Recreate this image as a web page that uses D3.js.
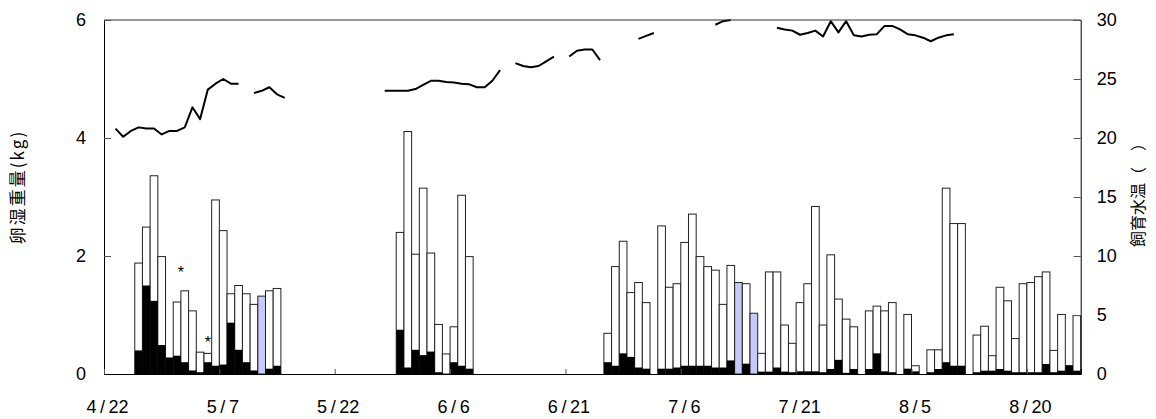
<!DOCTYPE html>
<html>
<head>
<meta charset="utf-8">
<script src="https://cdn.jsdelivr.net/npm/d3@7"></script>
<style>
  body { margin: 0; background: #fff; }
  text { font-family: Arial, "Liberation Sans", sans-serif; }
  .cjk { font-family: "Noto Sans CJK JP", "Noto Sans CJK SC", sans-serif; }
</style>
</head>
<body>
<svg id="chart" width="1156" height="419"></svg>
<script>
// one band per day, day 0 = left edge of the plot
const dayCount = 127;
const tickDays = [0, 15, 30, 45, 60, 75, 90, 105, 120];
const tickLabels = ["4/22", "5/7", "5/22", "6/6", "6/21", "7/6", "7/21", "8/5", "8/20"];

// egg wet weight (kg): total and the black (bottom) part
const barDays = [4, 5, 6, 7, 8, 9, 10, 11, 12, 13, 14, 15, 16, 17, 18, 19, 20, 21, 22,
  38, 39, 40, 41, 42, 43, 44, 45, 46, 47,
  65, 66, 67, 68, 69, 70, 72, 73, 74, 75, 76, 77, 78, 79, 80, 81, 82, 83, 84, 85, 86, 87, 88, 89,
  90, 91, 92, 93, 94, 95, 96, 97, 99, 100, 101, 102, 104, 105, 107, 108, 109, 110, 111,
  113, 114, 115, 116, 117, 118, 119, 120, 121, 122, 123, 124, 125, 126];
const eggTotal = [1.88, 2.49, 3.36, 1.99, 0.28, 1.22, 1.41, 1.07, 0.37, 0.35, 2.95, 2.43, 1.36, 1.50, 1.36, 1.18, 1.32, 1.41, 1.45,
  2.40, 4.11, 2.03, 3.15, 2.05, 0.84, 0.34, 0.80, 3.03, 1.99,
  0.69, 1.82, 2.25, 1.38, 1.55, 1.21, 2.51, 1.47, 1.53, 2.23, 2.71, 1.99, 1.82, 1.76, 1.18, 1.84, 1.55, 1.53, 1.03, 0.35, 1.73, 1.73, 0.83, 0.52,
  1.21, 1.53, 2.84, 0.83, 2.02, 1.27, 0.93, 0.80, 1.07, 1.15, 1.07, 1.21, 1.01, 0.14, 0.41, 0.41, 3.15, 2.55, 2.55,
  0.66, 0.81, 0.31, 1.47, 1.24, 0.60, 1.53, 1.55, 1.65, 1.73, 0.40, 1.01, 0.15, 0.99];
const eggBlack = [0.40, 1.50, 1.24, 0.49, 0.28, 0.31, 0.20, 0.06, 0.03, 0.20, 0.14, 0.16, 0.87, 0.41, 0.20, 0.06, 0, 0.09, 0.14,
  0.75, 0.11, 0.41, 0.32, 0.38, 0.03, 0, 0.20, 0.14, 0.09,
  0.20, 0.14, 0.35, 0.29, 0.11, 0.09, 0.09, 0.09, 0.11, 0.14, 0.14, 0.14, 0.14, 0.11, 0.11, 0.23, 0, 0.175, 0, 0.04, 0.04, 0.11, 0.04, 0.03,
  0.045, 0.045, 0.045, 0.03, 0.085, 0.24, 0.02, 0.085, 0.085, 0.35, 0.045, 0.03, 0.09, 0.045, 0.03, 0.085, 0.20, 0.14, 0.14,
  0.03, 0.056, 0.056, 0.085, 0.056, 0.03, 0.03, 0.03, 0.03, 0.17, 0.03, 0.056, 0.15, 0.056];
const lavenderDays = [20, 82, 84];

// rearing water temperature, one value per day (null = not measured)
const tempC = [null, 20.8, 20.1, 20.6, 20.9, 20.8, 20.8, 20.3, 20.6, 20.6, 20.9, 22.6, 21.6, 24.1, 24.6, 25.0, 24.6, 24.6,
  null, 23.8, 24.0, 24.3, 23.7, 23.4,
  null, null, null, null, null, null, null, null, null, null, null, null,
  24.0, 24.0, 24.0, 24.0, 24.15, 24.5, 24.85, 24.85, 24.75, 24.7, 24.6, 24.55, 24.3, 24.3, 24.85, 25.75,
  null, 26.35, 26.1, 26.0, 26.1, 26.5, 26.9,
  null, 26.9, 27.4, 27.5, 27.5, 26.6,
  null, null, null, null, 28.4, 28.65, 28.9,
  null, null, null, null, null, null, null, 29.6, 29.9, 30.0,
  null, null, null, null, null,
  29.35, 29.2, 29.1, 28.75, 28.9, 29.1, 28.6, 29.9, 28.95, 29.9, 28.7, 28.6, 28.75, 28.8, 29.5, 29.5, 29.2, 28.8, 28.7, 28.5, 28.2, 28.5, 28.7, 28.8,
  null, null, null, null, null, null, null, null, null, null, null, null, null, null, null, null];

const starMarks = [{ day: 9.5, kg: 1.76 }, { day: 13, kg: 0.57 }];

const svg = d3.select("#chart");
const plotL = 104, plotR = 1080.7, plotT = 20, plotB = 374;

const x = d3.scaleBand().domain(d3.range(dayCount)).range([plotL, plotR]).padding(0);
const xPos = d3.scaleLinear().domain([0, dayCount]).range([plotL, plotR]);
const yL = d3.scaleLinear().domain([0, 6]).range([plotB, plotT]);
const yR = d3.scaleLinear().domain([0, 30]).range([plotB, plotT]);
const bw = x.bandwidth();

const bars = barDays.map((d, i) => ({ day: d, total: eggTotal[i], black: eggBlack[i], lav: lavenderDays.includes(d) }));

// bars: outlined total, black part drawn on top of it
const g = svg.append("g");
g.selectAll(".total")
  .data(bars.filter(b => b.total > b.black))
  .enter()
  .append("rect")
  .attr("class", "total")
  .attr("x", b => x(b.day))
  .attr("y", b => yL(b.total))
  .attr("width", bw)
  .attr("height", b => plotB - yL(b.total))
  .attr("fill", b => b.lav ? "#c9c9f7" : "#fff")
  .attr("stroke", "#222")
  .attr("stroke-width", 1);

g.selectAll(".black")
  .data(bars.filter(b => b.black > 0))
  .enter()
  .append("rect")
  .attr("class", "black")
  .attr("x", b => x(b.day))
  .attr("y", b => yL(b.black))
  .attr("width", bw)
  .attr("height", b => plotB - yL(b.black))
  .attr("fill", "#000");

// temperature line
const line = d3.line()
  .defined(d => d != null)
  .x((d, i) => x(i) + bw / 2)
  .y(d => yR(d));

svg.append("path")
  .datum(tempC)
  .attr("d", line)
  .attr("fill", "none")
  .attr("stroke", "#000")
  .attr("stroke-width", 2)
  .attr("stroke-linejoin", "round");

// asterisks
svg.selectAll(".star")
  .data(starMarks)
  .enter()
  .append("text")
  .attr("x", s => xPos(s.day + 0.5))
  .attr("y", s => yL(s.kg) + 8)
  .attr("text-anchor", "middle")
  .attr("font-size", 16)
  .text("*");

// frame top
svg.append("line")
  .attr("x1", plotL).attr("x2", plotR)
  .attr("y1", plotT).attr("y2", plotT)
  .attr("stroke", "#333");

// axes
const axL = svg.append("g")
  .attr("transform", `translate(${plotL},0)`)
  .call(d3.axisLeft(yL).tickValues([0, 2, 4, 6]).tickFormat(d3.format("d")).tickSize(-7).tickPadding(18));
const axR = svg.append("g")
  .attr("transform", `translate(${plotR},0)`)
  .call(d3.axisRight(yR).tickValues([0, 5, 10, 15, 20, 25, 30]).tickFormat(d3.format("d")).tickSize(-7).tickPadding(16));
const axB = svg.append("g")
  .attr("transform", `translate(0,${plotB})`)
  .call(d3.axisBottom(xPos).tickValues(tickDays).tickFormat((d, i) => tickLabels[i].replace("/", "\u2009/\u2009")).tickSize(-5).tickPadding(26));

[axL, axR, axB].forEach(a => {
  a.select(".domain").attr("stroke", "#000");
  a.selectAll(".tick line").attr("stroke", "#555");
  a.selectAll("text").attr("font-size", 18).attr("fill", "#000")
    .style("font-family", "Arial, 'Liberation Sans', sans-serif");
});
axB.selectAll("text").attr("dx", 3);

// axis titles
svg.append("text")
  .attr("class", "cjk")
  .attr("transform", "translate(16,187) rotate(-90)")
  .attr("text-anchor", "middle")
  .attr("dominant-baseline", "central")
  .attr("font-size", 17)
  .attr("letter-spacing", 2)
  .text("卵湿重量(kg)");

svg.append("text")
  .attr("class", "cjk")
  .attr("transform", "translate(1137,191) rotate(-90)")
  .attr("text-anchor", "middle")
  .attr("dominant-baseline", "central")
  .attr("font-size", 16)
  .text("飼育水温（　）");
</script>
</body>
</html>
